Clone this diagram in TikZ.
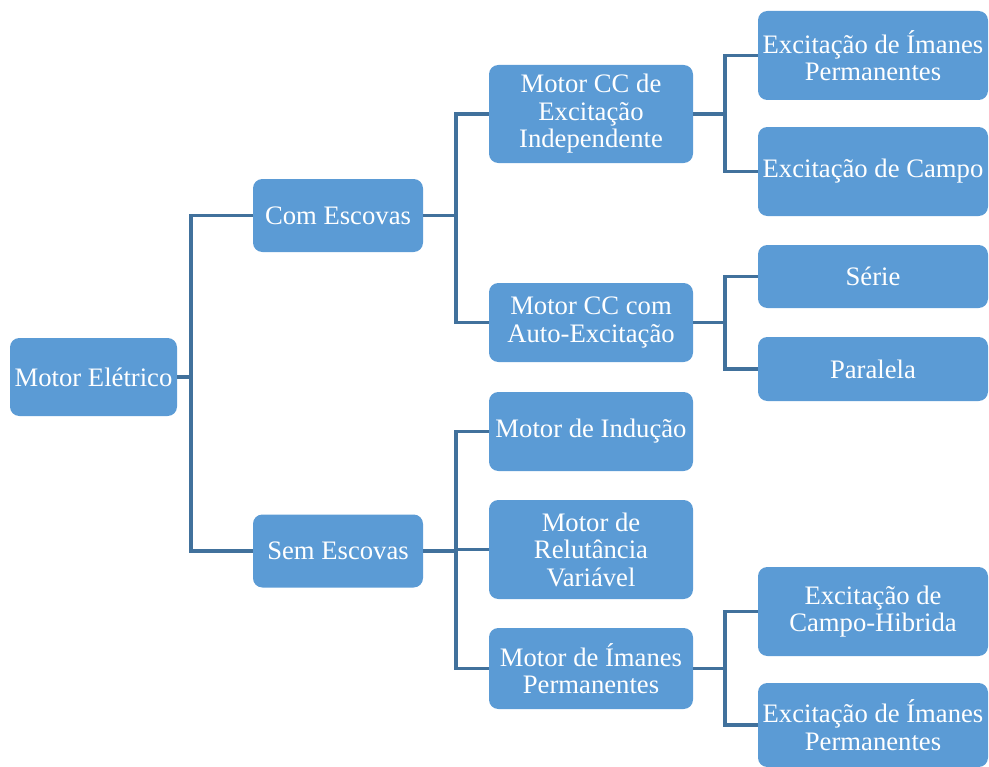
\documentclass[tikz,border=0pt]{standalone}
\usepackage{fontspec}
\setmainfont{Liberation Serif}
\newfontfamily\timesfont{Liberation Serif}
\definecolor{boxblue}{HTML}{5B9BD5}
\definecolor{linkblue}{HTML}{41719C}
\tikzset{
  box/.style={fill=boxblue, rounded corners=7pt, text=white, align=center, inner sep=0pt,
    font=\timesfont\fontsize{20}{20.6}\selectfont},
  link/.style={draw=linkblue, line width=2.3pt}
}
\begin{document}
\begin{tikzpicture}[x=0.75pt,y=-0.75pt]
\useasboundingbox (0,0) rectangle (989,767);
% level 0
\node[box, minimum width=125.25pt, minimum height=58.5pt] (me) at (93.5,377) {Motor Elétrico};
% level 1
\node[box, minimum width=127.5pt, minimum height=54.75pt] (ce) at (338,215.5) {Com Escovas};
\node[box, minimum width=127.5pt, minimum height=54.75pt] (se) at (338,551) {Sem Escovas};
% level 2
\node[box, minimum width=153pt, minimum height=73.5pt] (mi) at (591,114) {Motor CC de\\Excitação\\Independente};
\node[box, minimum width=153pt, minimum height=59.25pt] (ma) at (591,322.5) {Motor CC com\\Auto-Excitação};
\node[box, minimum width=153pt, minimum height=59.25pt] (mind) at (591,431.5) {Motor de Indução};
\node[box, minimum width=153pt, minimum height=74.25pt] (mr) at (591,549.5) {Motor de\\Relutância\\Variável};
\node[box, minimum width=153pt, minimum height=60.75pt] (mip) at (591,668.5) {Motor de Ímanes\\Permanentes};
% level 3
\node[box, minimum width=172.5pt, minimum height=66.75pt] (e1) at (873,55.5) {Excitação de Ímanes\\Permanentes};
\node[box, minimum width=172.5pt, minimum height=66.75pt] (e2) at (873,171.5) {Excitação de Campo};
\node[box, minimum width=172.5pt, minimum height=47.25pt] (s) at (873,276.5) {Série};
\node[box, minimum width=172.5pt, minimum height=48pt] (p) at (873,369) {Paralela};
\node[box, minimum width=172.5pt, minimum height=66.75pt] (h) at (873,611.5) {Excitação de\\Campo-Hibrida};
\node[box, minimum width=172.5pt, minimum height=63pt] (ip) at (873,725) {Excitação de Ímanes\\Permanentes};
% junctions
\coordinate (j1) at (191,377);
\coordinate (j2) at (456,215.5);
\coordinate (j3) at (456,551);
\coordinate (j4) at (725,114);
\coordinate (j5) at (725,322.5);
\coordinate (j6) at (725,668.5);
% connectors
\draw[link] (me.east) -- (j1);
\draw[link] (j1) |- (ce.west);
\draw[link] (j1) |- (se.west);
\draw[link] (ce.east) -- (j2);
\draw[link] (j2) |- (mi.west);
\draw[link] (j2) |- (ma.west);
\draw[link] (se.east) -- (j3);
\draw[link] (j3) |- (mind.west);
\draw[link] (j3) |- (mr.west);
\draw[link] (j3) |- (mip.west);
\draw[link] (mi.east) -- (j4);
\draw[link] (j4) |- (e1.west);
\draw[link] (j4) |- (e2.west);
\draw[link] (ma.east) -- (j5);
\draw[link] (j5) |- (s.west);
\draw[link] (j5) |- (p.west);
\draw[link] (mip.east) -- (j6);
\draw[link] (j6) |- (h.west);
\draw[link] (j6) |- (ip.west);
\end{tikzpicture}
\end{document}
